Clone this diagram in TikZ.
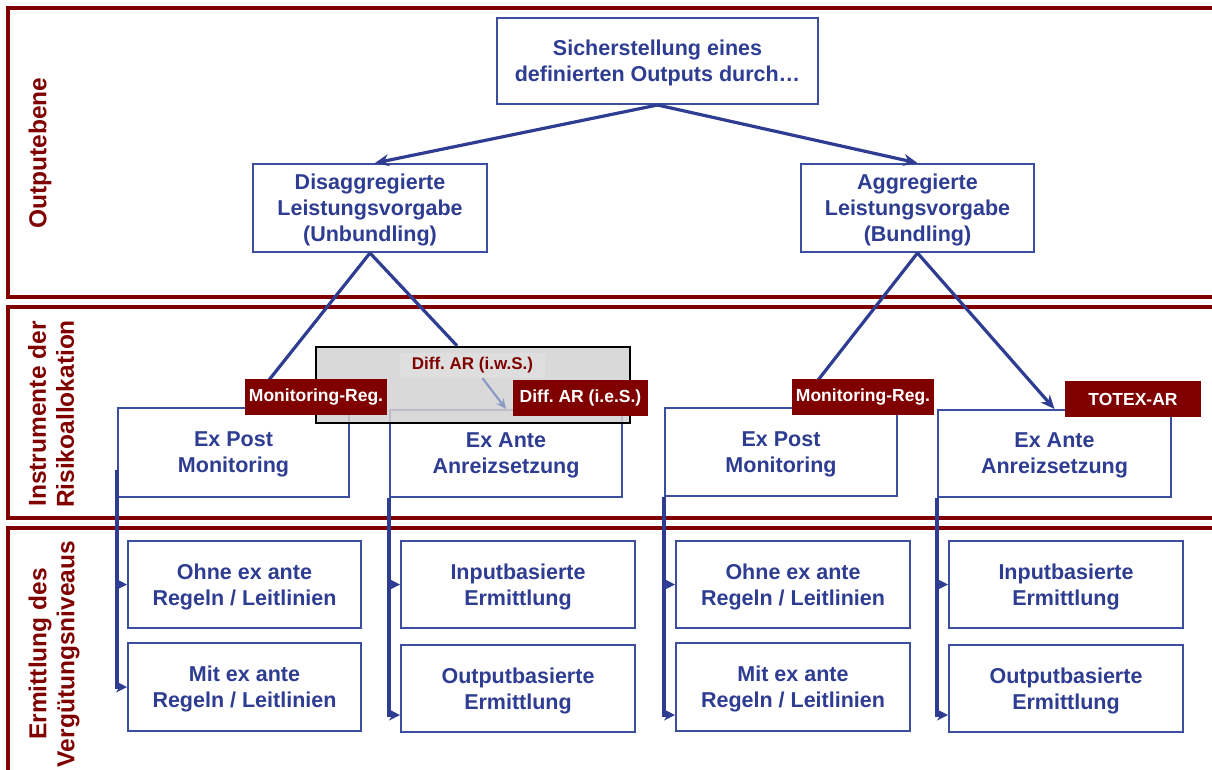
\documentclass[tikz,border=0pt]{standalone}
\usepackage{fontspec}
\setmainfont{Liberation Sans}
\usetikzlibrary{arrows.meta}
\definecolor{navy}{RGB}{46,61,145}
\definecolor{boxblue}{RGB}{60,78,160}
\definecolor{darkred}{RGB}{128,0,0}
\definecolor{greyfill}{RGB}{210,210,210}
\definecolor{innergrey}{RGB}{222,222,222}
\definecolor{paleblue}{RGB}{140,155,196}
\tikzset{
 bluebox/.style={draw=boxblue, line width=2pt, fill=white, text=navy, font=\bfseries\fontsize{21.5}{26}\selectfont, align=center, inner sep=0pt, text depth=0pt},
 redlabel/.style={fill=darkred, text=white, font=\bfseries\fontsize{17.5}{20}\selectfont, inner sep=0pt, align=center},
 band/.style={draw=darkred, line width=3.2pt},
 bandlabel/.style={text=darkred, font=\bfseries\fontsize{24.5}{28}\selectfont, rotate=90, align=center, inner sep=0pt},
 conn/.style={draw=navy, line width=3.2pt, -{Stealth[length=14pt,width=12pt]}},
 plainconn/.style={draw=navy, line width=3.2pt},
 feedtip/.style={draw=navy, line width=3.2pt, -{Stealth[length=11pt,width=11pt]}}
}
\begin{document}
\frenchspacing
\begin{tikzpicture}[x=1pt,y=-1pt]
\useasboundingbox (0,0) rectangle (1212,769);
% bands
\draw[band] (8,8) rectangle (1230,297);
\draw[band] (8,307) rectangle (1230,518);
\draw[band] (8,528) rectangle (1230,790);
\node[bandlabel] (l1) at (40,153) {Outputebene};
\node[bandlabel] (l2) at (51,414) {Instrumente der\\Risikoallokation};
\node[bandlabel] (l3) at (54,654) {Ermittlung des\\Vergütungsniveaus};
% top level
\node[bluebox, minimum width=321pt, minimum height=86pt] (top) at (657.5,61) {Sicherstellung eines\\definierten Outputs durch…};
\node[bluebox, minimum width=234pt, minimum height=88pt] (dis) at (370,208) {Disaggregierte\\Leistungsvorgabe\\(Unbundling)};
\node[bluebox, minimum width=233pt, minimum height=88pt] (agg) at (917.5,208) {Aggregierte\\Leistungsvorgabe\\(Bundling)};
% middle level
\node[bluebox, minimum width=231pt, minimum height=89pt] (expl) at (233.5,452.5) {Ex Post\\Monitoring};
\node[bluebox, minimum width=232pt, minimum height=87pt] (exal) at (506,453.5) {Ex Ante\\Anreizsetzung};
\node[bluebox, minimum width=232pt, minimum height=88pt] (expr) at (781,452) {Ex Post\\Monitoring};
\node[bluebox, minimum width=233pt, minimum height=87pt] (exar) at (1054.5,453.5) {Ex Ante\\Anreizsetzung};
% bottom level
\node[bluebox, minimum width=233pt, minimum height=87pt] (b1a) at (244.5,584.5) {Ohne ex ante\\Regeln / Leitlinien};
\node[bluebox, minimum width=233pt, minimum height=88pt] (b1b) at (244.5,687) {Mit ex ante\\Regeln / Leitlinien};
\node[bluebox, minimum width=234pt, minimum height=87pt] (b2a) at (518,584.5) {Inputbasierte\\Ermittlung};
\node[bluebox, minimum width=234pt, minimum height=87pt] (b2b) at (518,688.5) {Outputbasierte\\Ermittlung};
\node[bluebox, minimum width=234pt, minimum height=87pt] (b3a) at (793,584.5) {Ohne ex ante\\Regeln / Leitlinien};
\node[bluebox, minimum width=234pt, minimum height=88pt] (b3b) at (793,687) {Mit ex ante\\Regeln / Leitlinien};
\node[bluebox, minimum width=234pt, minimum height=87pt] (b4a) at (1066,584.5) {Inputbasierte\\Ermittlung};
\node[bluebox, minimum width=234pt, minimum height=87pt] (b4b) at (1066,688.5) {Outputbasierte\\Ermittlung};
% top connectors
\draw[conn] (top.south) -- ([xshift=5pt]dis.north);
\draw[conn] (top.south) -- (agg.north);
\draw[conn] (dis.south) -- ([xshift=14pt]expl.north);
\draw[conn] (agg.south) -- ([xshift=16pt]expr.north);
\draw[conn] (agg.south) -- (exar.north);
% feeders to bottom boxes
\draw[feedtip] (expl.west |- 0,470) |- (b1b.west);
\draw[feedtip] (expl.west |- b1a.west) -- (b1a.west);
\draw[feedtip] (exal.south west) |- (b2b.west |- 0,715);
\draw[feedtip] (exal.west |- b2a.west) -- (b2a.west);
\draw[feedtip] (expr.south west) |- (b3b.west |- 0,715);
\draw[feedtip] (expr.west |- b3a.west) -- (b3a.west);
\draw[feedtip] (exar.south west) |- (b4b.west |- 0,715);
\draw[feedtip] (exar.west |- b4a.west) -- (b4a.west);
% grey overlay
\node[draw=black, line width=2.5pt, fill=greyfill, fill opacity=0.85, minimum width=314pt, minimum height=76pt, inner sep=0pt] (grey) at (473,385) {};
\draw[plainconn] (dis.south) -- ([xshift=-16pt]grey.north);
\node[fill=innergrey, text=darkred, font=\bfseries\fontsize{17}{20}\selectfont, minimum width=145pt, minimum height=25pt, inner sep=0pt] (iws) at (472.5,365.5) {Diff. AR (i.w.S.)};
\draw[draw=paleblue, line width=2.2pt, -{Stealth[length=10pt,width=9pt]}] ([xshift=10pt]iws.south) -- (exal.north);
% red labels
\node[redlabel, minimum width=142pt, minimum height=36pt] (monl) at (316,397) {Monitoring-Reg.};
\node[redlabel, minimum width=135pt, minimum height=36pt] (dies) at (580.5,398) {Diff. AR (i.e.S.)};
\node[redlabel, minimum width=142pt, minimum height=36pt] (monr) at (863,397) {Monitoring-Reg.};
\node[redlabel, minimum width=136pt, minimum height=36pt] (totex) at (1133,399) {TOTEX-AR};
\end{tikzpicture}
\end{document}
